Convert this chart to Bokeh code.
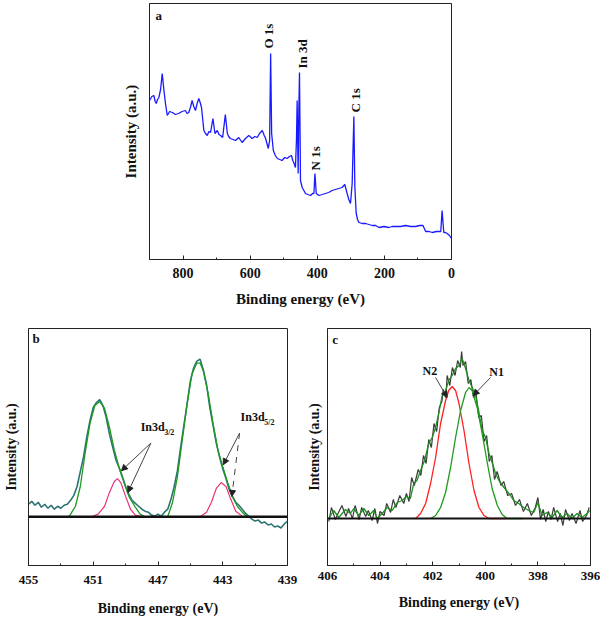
from bokeh.plotting import figure
from bokeh.layouts import column, row
from bokeh.models import Range1d, FixedTicker, Label, Arrow, NormalHead, Span
from bokeh.embed import file_html
from bokeh.resources import INLINE

FONT = "Liberation Serif"

# ---------------- Panel a: survey spectrum ----------------
a_energy = [900, 893, 887, 883, 880, 876, 872, 867, 862, 857, 852, 847, 840, 832, 823, 813, 803, 793,
            788, 783, 778, 773, 768, 763, 758, 753, 749, 745, 738, 733, 728, 723, 718, 711, 705, 698,
            693, 688, 682, 674, 668, 664, 659, 651, 644, 634, 624, 619, 614, 604, 594, 586, 579, 572,
            564, 558, 554, 546, 542, 539, 536, 531, 525, 519, 512, 505, 497, 490, 483, 477, 473, 469,
            465, 462, 460, 457, 455, 453, 450, 445, 440, 435, 428, 420, 414, 410, 407, 403, 399, 395,
            385, 376, 366, 356, 346, 336, 326, 318, 311, 306, 301, 298, 296, 291, 288, 284, 280, 276,
            266, 256, 246, 236, 226, 216, 201, 187, 177, 167, 152, 137, 122, 107, 95, 85, 77, 67,
            57, 45, 32, 28, 23, 18, 13, 6, 0]
a_intensity = [159, 163, 164, 158, 156, 160, 162, 170, 186, 169, 155, 144, 148, 147, 145, 146, 148, 149,
               146, 147, 152, 159, 153, 149, 156, 161, 157, 152, 129, 126, 124, 128, 127, 141, 126, 129,
               125, 124, 122, 145, 126, 123, 121, 120, 119, 122, 117, 119, 121, 124, 121, 123, 122, 126,
               129, 124, 121, 111, 119, 206, 126, 109, 104, 101, 100, 99, 102, 101, 103, 104, 99, 96,
               92, 120, 159, 86, 150, 187, 79, 72, 69, 66, 65, 64, 66, 66, 86, 66, 65, 64,
               65, 66, 67, 69, 70, 71, 72, 75, 66, 60, 56, 68, 76, 143, 72, 46, 40, 37,
               36, 36, 35, 34, 34, 32, 33, 32, 33, 33, 33, 34, 33, 33, 34, 34, 28, 28,
               27, 28, 28, 49, 27, 27, 26, 24, 21]
a_peak_labels = ["O 1s", "In 3d", "N 1s", "C 1s"]
a_x_ticks = [800, 600, 400, 200, 0]
a_x_minor = [900, 700, 500, 300, 100]

# ---------------- Panel b: In 3d ----------------
b_energy = [455.0, 454.8, 454.6, 454.4, 454.2, 454.0, 453.8, 453.6, 453.4, 453.2, 453.0, 452.8, 452.6,
            452.4, 452.2, 452.0, 451.8, 451.6, 451.4, 451.2, 451.0, 450.8, 450.6, 450.4, 450.2, 450.0,
            449.8, 449.6, 449.4, 449.2, 449.0, 448.8, 448.6, 448.4, 448.2, 448.0, 447.8, 447.6, 447.4,
            447.2, 447.0, 446.8, 446.6, 446.4, 446.2, 446.0, 445.8, 445.6, 445.4, 445.2, 445.0, 444.8,
            444.6, 444.4, 444.2, 444.0, 443.8, 443.6, 443.4, 443.2, 443.0, 442.8, 442.6, 442.4, 442.2,
            442.0, 441.8, 441.6, 441.4, 441.2, 441.0, 440.8, 440.6, 440.4, 440.2, 440.0, 439.8, 439.6,
            439.4, 439.2, 439.0]
b_intensity = [62, 65, 61, 64, 59, 62, 58, 61, 57, 60, 58, 61, 62,
               66, 71, 80, 95, 110, 130, 147, 160, 165, 168, 162, 150, 133,
               120, 107, 99, 90, 80, 72, 66, 63, 60, 57, 55, 54, 51,
               50, 52, 50, 54, 57, 67, 80, 96, 120, 142, 164, 187, 200,
               207, 209, 198, 183, 160, 142, 124, 110, 98, 88, 77, 70, 64,
               61, 57, 53, 50, 47, 45, 46, 43, 44, 41, 42, 39, 40,
               38, 42, 45]
b_fit1_energy = [452.5, 452.1, 451.8, 451.5, 451.2, 450.9, 450.6, 450.3, 450.0, 449.7, 449.4, 449.1, 448.8, 448.4, 448.1, 447.8]
b_fit1_intensity = [49.3, 60, 80, 114, 144, 162, 166, 159, 140, 117, 99, 84, 70, 59, 52, 49.3]
b_fit2_energy = [446.4, 446.1, 445.8, 445.5, 445.2, 444.9, 444.6, 444.4, 444.2, 443.9, 443.6, 443.3, 443.0, 442.7, 442.4, 442.1, 441.8, 441.5]
b_fit2_intensity = [49.3, 64, 90, 127, 164, 194, 205, 205, 197, 174, 144, 117, 100, 84, 70, 60, 54, 49.3]
b_comp1_energy = [451.1, 450.7, 450.3, 450.0, 449.7, 449.5, 449.3, 449.0, 448.7, 448.4, 447.9]
b_comp1_intensity = [49.3, 52, 60, 74, 85, 88, 84, 70, 57, 51, 49.3]
b_comp2_energy = [444.4, 444.0, 443.7, 443.4, 443.1, 442.8, 442.5, 442.2, 441.8]
b_comp2_intensity = [49.3, 54, 64, 78, 84, 80, 67, 55, 50]
b_baseline = 49.3
b_x_ticks = [455, 451, 447, 443, 439]
b_x_minor = [453, 449, 445, 441]

# ---------------- Panel c: N 1s ----------------
c_raw_energy = [405.95, 405.85, 405.7, 405.6, 405.45, 405.3, 405.2, 405.05, 404.95, 404.8, 404.7, 404.55,
                404.45, 404.3, 404.2, 404.1, 404.0, 403.85, 403.75, 403.6, 403.5, 403.4, 403.25, 403.1,
                403.0, 402.9, 402.8, 402.7, 402.55, 402.45, 402.35, 402.25, 402.15, 402.05, 401.95, 401.85,
                401.75, 401.65, 401.6, 401.5, 401.45, 401.35, 401.25, 401.15, 401.05, 400.95, 400.9, 400.85,
                400.75, 400.65, 400.55, 400.45, 400.35, 400.25, 400.15, 400.05, 399.95, 399.85, 399.75, 399.65,
                399.55, 399.4, 399.3, 399.15, 399.0, 398.85, 398.7, 398.55, 398.4, 398.25, 398.1, 398.0,
                397.9, 397.8, 397.7, 397.6, 397.5, 397.4, 397.25, 397.15, 397.05, 396.95, 396.8, 396.7,
                396.55, 396.4, 396.3, 396.15, 396.05]
c_raw_intensity = [44, 58, 46, 52, 60, 49, 57, 47, 60, 46, 58, 49,
                   55, 45, 57, 42, 54, 50, 62, 53, 66, 58, 70, 62,
                   72, 64, 88, 80, 96, 90, 110, 102, 126, 118, 142, 134,
                   158, 164, 176, 168, 190, 180, 198, 190, 205, 198, 214, 200,
                   204, 182, 186, 168, 172, 148, 150, 124, 130, 104, 110, 86,
                   94, 80, 84, 70, 72, 60, 66, 54, 62, 50, 58, 68,
                   46, 56, 44, 54, 46, 58, 44, 52, 40, 56, 45, 52,
                   42, 55, 44, 50, 58]
c_smooth_energy = [405.95, 405.76, 405.57, 405.32, 405.13, 405.0, 404.81, 404.62, 404.43, 404.24, 404.11,
                   403.92, 403.73, 403.54, 403.35, 403.16, 403.0, 402.85, 402.72, 402.6, 402.46, 402.31,
                   402.15, 402.02, 401.89, 401.77, 401.64, 401.51, 401.39, 401.26, 401.13, 401.0, 400.88,
                   400.75, 400.62, 400.5, 400.37, 400.24, 400.12, 399.99, 399.86, 399.74, 399.61, 399.48,
                   399.29, 399.1, 398.92, 398.73, 398.54, 398.35, 398.16, 398.0, 397.84, 397.65, 397.46,
                   397.27, 397.08, 396.89, 396.7, 396.51, 396.32, 396.13, 396.03]
c_smooth_intensity = [47, 55, 48, 56, 52, 57, 50, 57, 50, 55, 47,
                      52, 58, 55, 63, 65, 69, 67, 82, 85, 95, 105,
                      122, 128, 138, 152, 170, 175, 185, 190, 197, 200, 207,
                      197, 185, 178, 170, 153, 135, 128, 112, 103, 92, 85,
                      78, 72, 65, 62, 58, 55, 53, 63, 50, 53, 48,
                      55, 48, 52, 47, 52, 48, 52, 55]
c_n2_energy = [402.65, 402.46, 402.27, 402.08, 401.89, 401.7, 401.51, 401.39, 401.26, 401.13, 401.0,
               400.81, 400.62, 400.43, 400.24, 400.05, 399.86, 399.2]
c_n2_intensity = [47, 52, 62, 82, 108, 142, 165, 175, 179, 175, 162, 135, 102, 75, 58, 50, 47, 47]
c_n1_energy = [402.08, 401.89, 401.7, 401.51, 401.32, 401.13, 400.94, 400.75, 400.62, 400.5, 400.31,
               400.12, 399.92, 399.74, 399.54, 399.36, 399.17, 398.6]
c_n1_intensity = [47, 50, 58, 73, 98, 128, 155, 173, 178, 175, 158, 132, 102, 77, 60, 51, 47, 47]
c_baseline = 47
c_x_ticks = [406, 404, 402, 400, 398, 396]
c_x_minor = [405, 403, 401, 399, 397]


def style(p, tick_size, label_size, major_standoff, label_standoff_x, label_standoff_y):
    p.outline_line_color = "#222222"
    p.outline_line_width = 1
    p.xgrid.visible = False
    p.ygrid.visible = False
    for ax in (p.xaxis[0], p.yaxis[0]):
        ax.axis_line_color = "#222222"
        ax.axis_line_width = 1
        ax.major_tick_in = 4
        ax.major_tick_out = 0
        ax.minor_tick_in = 2
        ax.minor_tick_out = 0
        ax.major_tick_line_color = "#222222"
        ax.minor_tick_line_color = "#222222"
        ax.major_label_text_font = FONT
        ax.major_label_text_font_style = "bold"
        ax.major_label_text_font_size = tick_size
        ax.major_label_text_color = "#111111"
        ax.axis_label_text_font = FONT
        ax.axis_label_text_font_style = "bold"
        ax.axis_label_text_font_size = label_size
        ax.axis_label_text_color = "#111111"
    p.xaxis[0].major_label_standoff = major_standoff
    p.xaxis[0].axis_label_standoff = label_standoff_x
    p.yaxis[0].ticker = FixedTicker(ticks=[])
    p.yaxis[0].axis_label_standoff = label_standoff_y
    p.yaxis[0].major_tick_line_color = None
    p.yaxis[0].minor_tick_line_color = None


def panel_letter(p, x, y, txt):
    p.add_layout(Label(x=x, y=y, text=txt, text_font=FONT, text_font_style="bold",
                       text_font_size="13px", text_color="#111111",
                       text_align="left", text_baseline="middle"))


def arrow(p, x0, y0, x1, y1, dash="solid"):
    p.add_layout(Arrow(x_start=x0, y_start=y0, x_end=x1, y_end=y1,
                       line_color="#444444", line_width=1, line_dash=dash,
                       end=NormalHead(size=6, fill_color="#222222", line_color="#222222")))


# ---------- figure a ----------
pa = figure(width=600, height=312, output_backend="svg", toolbar_location=None,
            x_range=Range1d(900, 0), y_range=Range1d(0, 256),
            min_border_left=149, min_border_right=149, min_border_top=3, min_border_bottom=53,
            x_axis_label="Binding energy (eV)", y_axis_label="Intensity (a.u.)")
style(pa, "14px", "15px", 8, 10, 11)
pa.xaxis[0].ticker = FixedTicker(ticks=a_x_ticks, minor_ticks=a_x_minor)
pa.line(a_energy, a_intensity, line_color="#1a1aff", line_width=1.3)
a_label_pos = [(545, 211), (444, 191), (405, 89), (286, 147)]
for txt, (x, y) in zip(a_peak_labels, a_label_pos):
    pa.add_layout(Label(x=x, y=y, text=txt, angle=1.5708, text_font=FONT, text_font_style="bold",
                        text_font_size="13px", text_color="#111111",
                        text_align="left", text_baseline="middle"))
panel_letter(pa, 882, 244, "a")

# ---------- figure b ----------
pb = figure(width=300, height=306, output_backend="svg", toolbar_location=None,
            x_range=Range1d(455, 439), y_range=Range1d(0, 240),
            min_border_left=24, min_border_right=13, min_border_top=15, min_border_bottom=51,
            x_axis_label="Binding energy (eV)", y_axis_label="Intensity (a.u.)")
style(pb, "13px", "14px", 10, 14, 10)
pb.xaxis[0].ticker = FixedTicker(ticks=b_x_ticks, minor_ticks=b_x_minor)
pb.line(b_energy, b_intensity, line_color="#2c7474", line_width=1.6)
pb.line(b_fit1_energy, b_fit1_intensity, line_color="#1f9a1f", line_width=1.3)
pb.line(b_fit2_energy, b_fit2_intensity, line_color="#1f9a1f", line_width=1.3)
pb.line(b_comp1_energy, b_comp1_intensity, line_color="#e8327c", line_width=1.2)
pb.line(b_comp2_energy, b_comp2_intensity, line_color="#e8327c", line_width=1.2)
pb.add_layout(Span(location=b_baseline, dimension="width", line_color="#111111", line_width=2.5))
panel_letter(pb, 454.75, 230, "b")
pb.add_layout(Label(x=448.07, y=140, text="In3d", text_font=FONT, text_font_style="bold",
                    text_font_size="12px", text_color="#111111", text_align="left", text_baseline="middle"))
pb.add_layout(Label(x=446.62, y=135, text="3/2", text_font=FONT, text_font_style="bold",
                    text_font_size="8px", text_color="#111111", text_align="left", text_baseline="middle"))
pb.add_layout(Label(x=441.9, y=150, text="In3d", text_font=FONT, text_font_style="bold",
                    text_font_size="12px", text_color="#111111", text_align="left", text_baseline="middle"))
pb.add_layout(Label(x=440.44, y=145, text="5/2", text_font=FONT, text_font_style="bold",
                    text_font_size="8px", text_color="#111111", text_align="left", text_baseline="middle"))
arrow(pb, 447.44, 124, 449.26, 96)
arrow(pb, 447.44, 124, 448.86, 74)
arrow(pb, 441.96, 134, 442.97, 102)
arrow(pb, 441.96, 134, 442.44, 70, dash="dashed")

# ---------- figure c ----------
pc = figure(width=300, height=306, output_backend="svg", toolbar_location=None,
            x_range=Range1d(406, 396), y_range=Range1d(0, 237),
            min_border_left=27, min_border_right=10, min_border_top=16, min_border_bottom=53,
            x_axis_label="Binding energy (eV)", y_axis_label="Intensity (a.u.)")
style(pc, "13px", "14px", 6, 12, 6)
pc.xaxis[0].ticker = FixedTicker(ticks=c_x_ticks, minor_ticks=c_x_minor)
pc.line(c_raw_energy, c_raw_intensity, line_color="#3a3a3a", line_width=1.2)
pc.line(c_smooth_energy, c_smooth_intensity, line_color="#1f8f1f", line_width=1.3)
pc.add_layout(Span(location=c_baseline, dimension="width", line_color="#111111", line_width=2))
pc.line(c_n2_energy, c_n2_intensity, line_color="#ff2020", line_width=1.3)
pc.line(c_n1_energy, c_n1_intensity, line_color="#1f9a1f", line_width=1.3)
panel_letter(pc, 405.82, 226, "c")
pc.add_layout(Label(x=402.11, y=195, text="N2", text_font=FONT, text_font_style="bold",
                    text_font_size="12px", text_color="#111111", text_align="center", text_baseline="middle"))
pc.add_layout(Label(x=399.57, y=194, text="N1", text_font=FONT, text_font_style="bold",
                    text_font_size="12px", text_color="#111111", text_align="center", text_baseline="middle"))
arrow(pc, 401.89, 188, 401.45, 168)
arrow(pc, 399.8, 188, 400.46, 170)

layout = column(pa, row(pb, pc))
open("out.html", "w").write(file_html(layout, INLINE))
